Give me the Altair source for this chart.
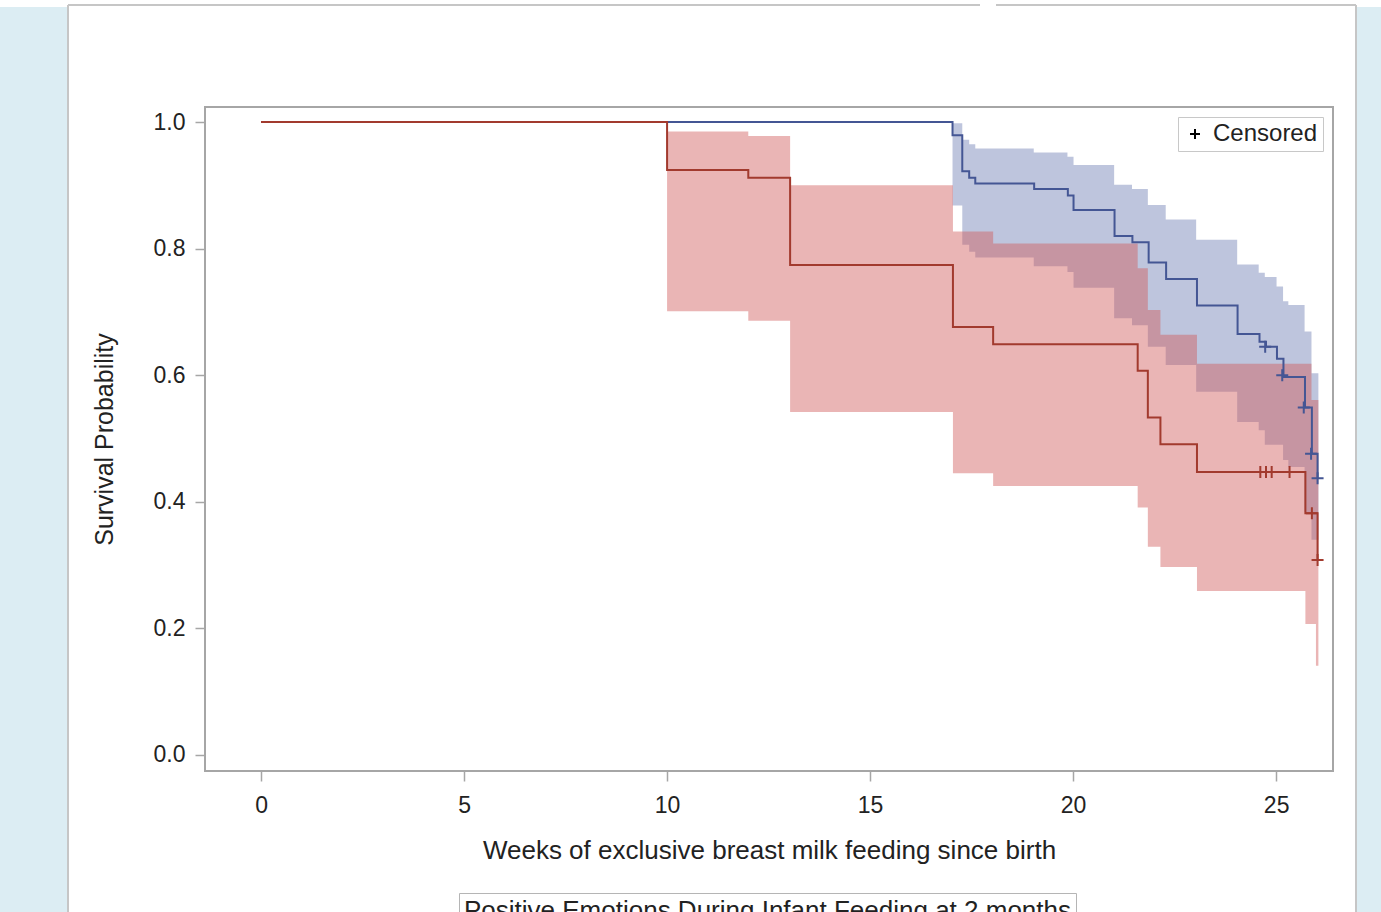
import altair as alt
import pandas as pd

# ---------------- data ----------------
group_names = ["High", "Low"]          # blue group, red group
line_colors = ["#445694", "#A23A2E"]
band_colors = ["#6F7EB3", "#D05B5B"]

# Kaplan-Meier step curves (weeks, survival probability)
blue_t = [0, 17.03, 17.27, 17.44, 17.59, 19.04, 19.87, 20.01, 21.02, 21.46, 21.86,
          22.29, 23.05, 24.05, 24.59, 24.75, 25.02, 25.18, 25.71, 25.88, 26.02]
blue_s = [1.0, 0.979, 0.922, 0.912, 0.903, 0.894, 0.884, 0.861, 0.820, 0.810, 0.778,
          0.752, 0.710, 0.665, 0.653, 0.645, 0.626, 0.597, 0.549, 0.476, 0.437]

red_t = [0, 10.0, 12.0, 13.03, 17.04, 18.03, 21.59, 21.84, 22.15, 23.05, 25.72, 26.02]
red_s = [1.0, 0.924, 0.912, 0.774, 0.676, 0.649, 0.607, 0.533, 0.491, 0.447, 0.382, 0.308]

# Confidence bands
blue_band_t = [17.03, 17.27, 17.44, 17.59, 19.03, 19.86, 20.01, 21.01, 21.45, 21.84, 22.28,
               23.03, 24.04, 24.57, 24.72, 25.01, 25.17, 25.30, 25.70, 25.87, 26.04]
blue_upper = [0.998, 0.972, 0.965, 0.958, 0.952, 0.945, 0.932, 0.901, 0.894, 0.869, 0.846,
              0.814, 0.775, 0.762, 0.755, 0.740, 0.717, 0.711, 0.669, 0.603, 0.603]
blue_lower = [0.868, 0.806, 0.795, 0.786, 0.772, 0.763, 0.738, 0.690, 0.679, 0.645, 0.616,
              0.574, 0.526, 0.513, 0.490, 0.490, 0.466, 0.455, 0.384, 0.340, 0.340]

red_band_t = [10.0, 12.0, 13.03, 17.04, 18.03, 21.59, 21.84, 22.15, 23.05, 25.72, 25.87, 25.98, 26.04]
red_upper = [0.985, 0.978, 0.900, 0.827, 0.808, 0.769, 0.703, 0.664, 0.618, 0.618, 0.561, 0.561, 0.561]
red_lower = [0.701, 0.686, 0.542, 0.445, 0.425, 0.391, 0.329, 0.297, 0.259, 0.207, 0.207, 0.141, 0.141]

# Censored observations
blue_cens_t = [24.73, 25.15, 25.68, 25.86, 26.02]
blue_cens_s = [0.645, 0.600, 0.549, 0.476, 0.437]
red_cens_t = [24.61, 24.75, 24.89, 25.33, 25.88, 26.02]
red_cens_s = [0.447, 0.447, 0.447, 0.447, 0.382, 0.308]

x_ticks = [0, 5, 10, 15, 20, 25]
y_ticks = [0.0, 0.2, 0.4, 0.6, 0.8, 1.0]

x_title = "Weeks of exclusive breast milk feeding since birth"
y_title = "Survival Probability"
legend_title = "Positive Emotions During Infant Feeding at 2 months"
cens_label = "Censored"

# ---------------- tables ----------------
blue_line = pd.DataFrame({"t": blue_t, "s": blue_s, "group": group_names[0]})
red_line = pd.DataFrame({"t": red_t, "s": red_s, "group": group_names[1]})
blue_band = pd.DataFrame({"t": blue_band_t, "s": blue_lower, "hi": blue_upper})
red_band = pd.DataFrame({"t": red_band_t, "s": red_lower, "hi": red_upper})
cens = pd.concat([
    pd.DataFrame({"t": blue_cens_t, "s": blue_cens_s, "group": group_names[0], "kind": cens_label}),
    pd.DataFrame({"t": red_cens_t, "s": red_cens_s, "group": group_names[1], "kind": cens_label}),
])

FONT = "Liberation Sans"
TXT = "#222222"
GRAY = "#a6a6a6"

x_scale = alt.Scale(domain=[-1.38, 26.4], nice=False, zero=False)
y_scale = alt.Scale(domain=[-0.0253, 1.0237], nice=False, zero=False)

x_axis = alt.Axis(values=x_ticks, title=x_title, titleFontSize=26, titleFontWeight="normal",
                  titleColor=TXT, titlePadding=20, labelFontSize=23, labelColor=TXT,
                  labelPadding=13, tickSize=10, tickColor=GRAY, tickWidth=1.5,
                  domain=False, grid=False, labelFlush=False)
y_axis = alt.Axis(values=y_ticks, format=".1f", title=y_title, titleFontSize=25,
                  titleFontWeight="normal", titleColor=TXT, titlePadding=36,
                  labelFontSize=23, labelColor=TXT, labelPadding=10, tickSize=10,
                  tickColor=GRAY, tickWidth=1.5, domain=False, grid=False)


def X():
    return alt.X("t:Q", scale=x_scale, axis=x_axis)


def Y():
    return alt.Y("s:Q", scale=y_scale, axis=y_axis)


color_legend = alt.Legend(orient="none", legendX=254, legendY=786, direction="horizontal",
                          title=legend_title, titleFontSize=26, titleFontWeight="normal",
                          titleColor=TXT, titleLimit=2000, titleFont=FONT,
                          strokeColor="#b5b5b5", fillColor="white", padding=5,
                          labelFontSize=23, labelColor=TXT)
color_enc = alt.Color("group:N", scale=alt.Scale(domain=group_names, range=line_colors),
                      legend=color_legend)

# ---------------- page decoration (blue page around white panel) ----------------
one = alt.Data(values=[{"k": 1}])
PAGE_BLUE = "#dcedf3"
BORDER = "#c6c6c6"
left_strip = alt.Chart(one).mark_rect(color=PAGE_BLUE).encode(
    x=alt.value(-205), x2=alt.value(-138), y=alt.value(-100), y2=alt.value(805))
right_strip = alt.Chart(one).mark_rect(color=PAGE_BLUE).encode(
    x=alt.value(1152), x2=alt.value(1176), y=alt.value(-100), y2=alt.value(805))
border_l = alt.Chart(one).mark_rule(color=BORDER, strokeWidth=2).encode(
    x=alt.value(-137), y=alt.value(-102), y2=alt.value(805))
border_r = alt.Chart(one).mark_rule(color=BORDER, strokeWidth=2).encode(
    x=alt.value(1151), y=alt.value(-102), y2=alt.value(805))
border_t1 = alt.Chart(one).mark_rule(color=BORDER, strokeWidth=2).encode(
    x=alt.value(-137), x2=alt.value(775), y=alt.value(-102))
border_t2 = alt.Chart(one).mark_rule(color=BORDER, strokeWidth=2).encode(
    x=alt.value(791), x2=alt.value(1151), y=alt.value(-102))

# ---------------- chart layers ----------------
band_b = alt.Chart(blue_band).mark_area(interpolate="step-after", color=band_colors[0],
                                         opacity=0.45).encode(x=X(), y=Y(), y2="hi:Q")
band_r = alt.Chart(red_band).mark_area(interpolate="step-after", color=band_colors[1],
                                        opacity=0.45).encode(x=X(), y=Y(), y2="hi:Q")
line_b = alt.Chart(blue_line).mark_line(interpolate="step-after", strokeWidth=2).encode(
    x=X(), y=Y(), color=color_enc)
line_r = alt.Chart(red_line).mark_line(interpolate="step-after", strokeWidth=2).encode(
    x=X(), y=Y(), color=color_enc)

plus = "M-1,0H1M0,-1V1"
cens_pts = alt.Chart(cens).mark_point(filled=False, strokeWidth=2, size=144, opacity=1).encode(
    x=X(), y=Y(), color=color_enc,
    shape=alt.Shape("kind:N", scale=alt.Scale(domain=[cens_label], range=[plus]),
                    legend=alt.Legend(title=None, orient="top-right", offset=10,
                                      strokeColor="#c8c8c8", fillColor="white", padding=5,
                                      labelFontSize=24, labelColor=TXT, labelFont=FONT,
                                      labelOffset=6, symbolSize=100, symbolStrokeWidth=2,
                                      symbolStrokeColor="black",
                                      symbolFillColor="transparent")),
)

chart = alt.layer(
    left_strip, right_strip, border_l, border_r, border_t1, border_t2,
    band_b, band_r, line_b, line_r, cens_pts,
).properties(
    width=1128, height=664,
    padding={"left": 205, "top": 107, "right": 48, "bottom": 141},
    autosize=alt.AutoSizeParams(type="none"),
).configure(
    background="white", font=FONT,
).configure_view(
    stroke=GRAY, strokeWidth=2,
)

chart.save("out.html", embed_options={"renderer": "svg", "actions": False})
